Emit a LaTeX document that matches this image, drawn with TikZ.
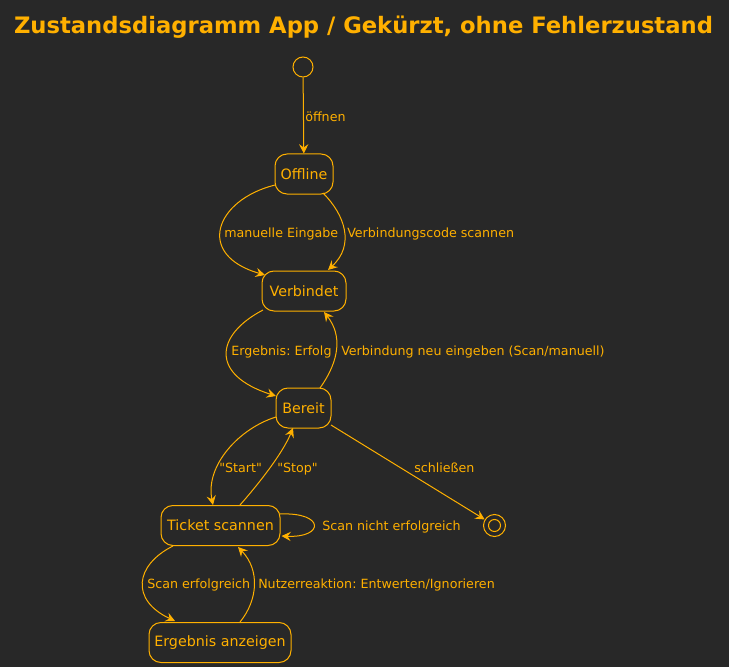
\documentclass[tikz,border=0pt]{standalone}
\usepackage{fontspec}
\setmainfont{DejaVu Sans}
\setmonofont{DejaVu Sans}
\usetikzlibrary{arrows.meta,calc}
\definecolor{bg}{HTML}{282828}
\definecolor{amb}{HTML}{FFB000}
\frenchspacing
\newcommand{\sq}{{\ttfamily\symbol{34}}}
\begin{document}
\begin{tikzpicture}[x=0.75pt,y=-0.75pt,
  every node/.style={text=amb},
  state/.style={draw=amb,line width=0.75pt,rounded corners=9pt,minimum height=30pt,inner sep=0pt,font=\fontsize{10.7}{12}\selectfont},
  lbl/.style={anchor=west,inner sep=0pt,text height=1.5ex,text depth=.3ex,font=\fontsize{9.5}{11}\selectfont},
  tr/.style={draw=amb,line width=0.75pt,-{Stealth[length=7pt,width=7pt,inset=2.5pt]}},
  pseudo/.style={draw=amb,line width=0.75pt,circle,inner sep=0pt}]
\fill[bg] (0,0) rectangle (729,667);
\useasboundingbox (0,0) rectangle (729,667);
\node[font=\fontsize{17}{20}\selectfont\bfseries] (title) at (363.5,27) {Zustandsdiagramm App / Gekürzt, ohne Fehlerzustand};
\node[pseudo,minimum size=15pt] (init) at (303,67) {};
\node[state,minimum width=43.5pt] (off) at (304,174) {Offline};
\node[state,minimum width=63pt] (ver) at (304,291) {Verbindet};
\node[state,minimum width=41.25pt] (ber) at (303.5,408) {Bereit};
\node[state,minimum width=89.25pt] (tic) at (220.5,525.5) {Ticket scannen};
\node[state,minimum width=106.5pt] (erg) at (220,642.5) {Ergebnis anzeigen};
\node[pseudo,minimum size=16.5pt] (fin) at (494.5,525.5) {};
\node[pseudo,minimum size=9pt] (fin2) at (fin) {};
% transitions
\draw[tr] (init) -- (off);
\draw[tr] ($(off)+(-29,11)$) .. controls +(-60,15) and +(-70,-20) .. ($(ver)+(-39,-16)$);
\draw[tr] ($(off)+(19,19)$) .. controls +(22,22) and +(27,-25) .. ($(ver)+(24,-21)$);
\draw[tr] ($(ver)+(-41,19)$) .. controls +(-48,25) and +(-66,-21) .. ($(ber)+(-27.5,-12)$);
\draw[tr] ($(ber)+(16.5,-20)$) .. controls +(20,-28) and +(18,23) .. ($(ver)+(20,21)$);
\draw[tr] ($(ber)+(-27.5,9)$) .. controls +(-36,11) and +(-8,-40) .. ($(tic)+(-7.5,-20.5)$);
\draw[tr] ($(tic)+(19.5,-20.5)$) .. controls +(15,-17) and +(-11,27) .. ($(ber)+(-10.5,20)$);
\draw[tr] ($(ber)+(27.5,17)$) -- (fin);
\draw[tr] ($(tic)+(59.5,-11.5)$) .. controls +(45,-2) and +(43,2) .. ($(tic)+(61,10.5)$);
\draw[tr] ($(tic)+(-47.5,20.5)$) .. controls +(-38,19) and +(-45,-21) .. ($(erg)+(-45,-21.5)$);
\draw[tr] ($(erg)+(20,-20.5)$) .. controls +(18,-22) and +(22,23) .. ($(tic)+(17.5,21.5)$);
% labels
\node[lbl] (l1) at (305,117) {öffnen};
\node[lbl] (l2) at (224,233) {manuelle Eingabe};
\node[lbl] (l3) at (347,233) {Verbindungscode scannen};
\node[lbl] (l4) at (231,351) {Ergebnis: Erfolg};
\node[lbl] (l5) at (341,351) {Verbindung neu eingeben (Scan/manuell)};
\node[lbl] (l6) at (219,468) {\sq Start\sq};
\node[lbl] (l7) at (277,468) {\sq Stop\sq};
\node[lbl] (l8) at (414,468) {schließen};
\node[lbl] (l9) at (322,526) {Scan nicht erfolgreich};
\node[lbl] (l10) at (147,584) {Scan erfolgreich};
\node[lbl] (l11) at (258,584) {Nutzerreaktion: Entwerten/Ignorieren};
\end{tikzpicture}
\end{document}
